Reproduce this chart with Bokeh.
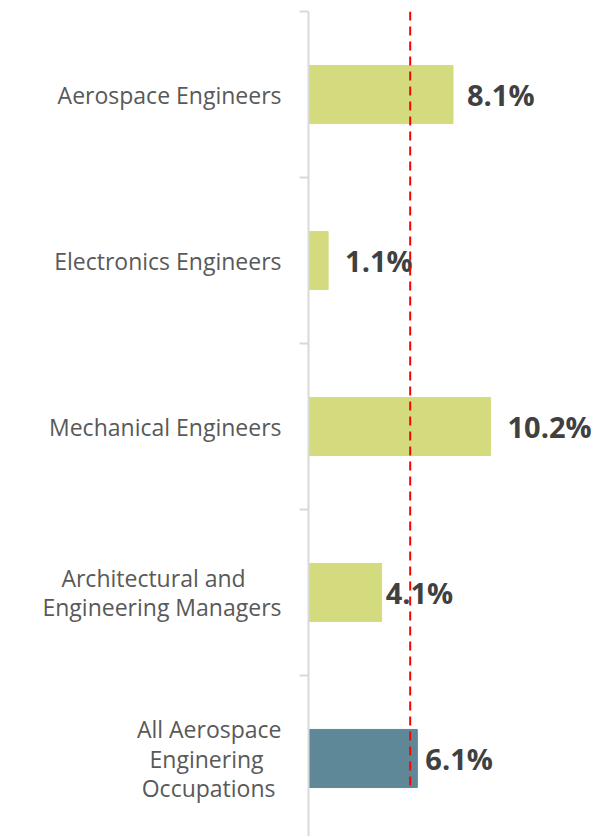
from bokeh.plotting import figure
from bokeh.models import Range1d, FixedTicker, ColumnDataSource
from bokeh.embed import file_html
from bokeh.resources import INLINE
from bokeh.core.properties import value

NB = "\u00a0"

# ---- data ----
categories = [
    "Aerospace Engineers",
    "Electronics Engineers",
    "Mechanical Engineers",
    "Architectural and" + NB * 6 + "\nEngineering Managers",
    "All Aerospace\nEnginering" + NB * 3 + "\nOccupations" + NB,
]
growth_pct = [8.1, 1.1, 10.2, 4.1, 6.1]
value_labels = ["8.1%", "1.1%", "10.2%", "4.1%", "6.1%"]
average_pct = 5.7

# ---- styling ----
bar_colors = ["#D4DB7E", "#D4DB7E", "#D4DB7E", "#D4DB7E", "#5E8797"]
label_gap_px = [14, 17, 17, 4, 8]
bar_height = 0.35
px_per_pct = 17.84
px_per_cat = 166.0

n = len(categories)
ypos = [n - 1 - i for i in range(n)]

src = ColumnDataSource(dict(
    y=ypos, v=growth_pct, lab=value_labels, color=bar_colors, gap=label_gap_px,
))

W, H = 612, 836
left_border, top_border = 308, 11
top = n - 0.5
bottom = top - (H - top_border) / px_per_cat

p = figure(
    width=W, height=H,
    x_range=Range1d(0, (W - left_border) / px_per_pct),
    y_range=Range1d(bottom, top),
    x_axis_location=None, y_axis_location="left",
    output_backend="svg", toolbar_location=None,
    min_border_left=left_border, min_border_top=top_border,
    min_border_right=0, min_border_bottom=0,
)
p.outline_line_color = None
p.xgrid.visible = False
p.ygrid.visible = False
p.background_fill_color = "white"
p.border_fill_color = "white"

p.hbar(y="y", left=0, right="v", height=bar_height, color="color", source=src)

p.text(x="v", y="y", text="lab", x_offset="gap", source=src,
       text_font=value("Open Sans"), text_font_style="bold",
       text_font_size="29px", text_color="#404040",
       text_align="left", text_baseline="middle")

last_bar_bottom = min(ypos) - bar_height / 2 - 0.01
p.segment(x0=[average_pct], y0=[top], x1=[average_pct], y1=[last_bar_bottom],
          line_color="#FF0000", line_width=2, line_dash="9 6")

ax = p.yaxis[0]
ax.ticker = FixedTicker(ticks=ypos, minor_ticks=[i - 0.5 for i in range(n + 1)])
ax.major_label_overrides = {y: c for y, c in zip(ypos, categories)}
ax.major_tick_out = 0
ax.major_tick_in = 0
ax.minor_tick_out = 9
ax.minor_tick_in = 0
ax.minor_tick_line_color = "#D9D9D9"
ax.minor_tick_line_width = 2
ax.axis_line_color = "#D9D9D9"
ax.axis_line_width = 2
ax.major_label_standoff = 18
ax.major_label_text_font = "Open Sans"
ax.major_label_text_font_size = "23px"
ax.major_label_text_color = "#595959"
ax.major_label_text_line_height = 0.92

open("out.html", "w").write(file_html(p, INLINE))
